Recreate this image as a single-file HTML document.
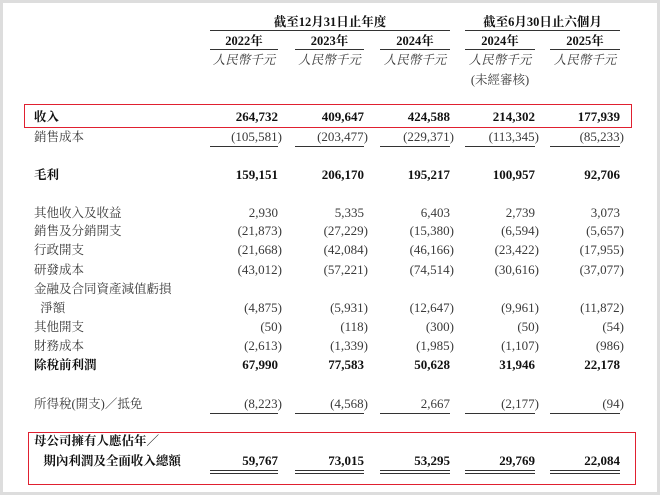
<!DOCTYPE html>
<html><head><meta charset="utf-8"><style>
body{margin:0;width:660px;height:495px;overflow:hidden;background:#fff;font-family:"Liberation Serif","Noto Serif CJK SC",serif;color:#3a3a3a}
.frame{position:absolute;left:0;top:0;width:654px;height:489px;border:3px solid #ddd}
.t{position:absolute;font-size:12.5px;white-space:nowrap;line-height:14px}
.n{font-size:13px}
.b{font-weight:bold;color:#111}
.l{position:absolute;height:0;border-top:1.3px solid #333}
.box{position:absolute;border:1.5px solid #e02030}
</style></head><body>
<div class="frame"></div>
<div id="c"></div>
<script>
var c=document.getElementById('c'),h='';
function T(x,y,s,cls){h+='<div class="t '+(cls||'')+'" style="left:'+x+'px;top:'+(y-7)+'px;">'+s+'</div>';}
function L(x1,x2,y){h+='<div class="l" style="left:'+x1+'px;width:'+(x2-x1)+'px;top:'+y+'px"></div>';}
var cols=[[210,278],[295,364],[380,450],[465,535],[550,620]];
T(210,22,'<div style="width:240px;text-align:center">截至12月31日止年度</div>','b');
T(465,22,'<div style="width:155px;text-align:center">截至6月30日止六個月</div>','b');
L(210,450,30);L(465,620,30);
var yrs=['2022年','2023年','2024年','2024年','2025年'];
cols.forEach(function(c,i){T(c[0],41,'<div style="width:'+(c[1]-c[0])+'px;text-align:center">'+yrs[i]+'</div>','b');L(c[0],c[1],49);
T(c[0]-3,60,'<div style="width:'+(c[1]-c[0]+6)+'px;text-align:center;font-style:italic">人民幣千元</div>');});
T(465,80,'<div style="width:70px;text-align:center">(未經審核)</div>');
var rows=[
['收入',117,1,['264,732','409,647','424,588','214,302','177,939']],
['銷售成本',137,0,['(105,581)','(203,477)','(229,371)','(113,345)','(85,233)'],1],
['毛利',175,1,['159,151','206,170','195,217','100,957','92,706']],
['其他收入及收益',213,0,['2,930','5,335','6,403','2,739','3,073']],
['銷售及分銷開支',231,0,['(21,873)','(27,229)','(15,380)','(6,594)','(5,657)']],
['行政開支',250,0,['(21,668)','(42,084)','(46,166)','(23,422)','(17,955)']],
['研發成本',270,0,['(43,012)','(57,221)','(74,514)','(30,616)','(37,077)']],
['金融及合同資產減值虧損',289,0,null],
['&nbsp;&nbsp;淨額',308,0,['(4,875)','(5,931)','(12,647)','(9,961)','(11,872)']],
['其他開支',327,0,['(50)','(118)','(300)','(50)','(54)']],
['財務成本',346,0,['(2,613)','(1,339)','(1,985)','(1,107)','(986)']],
['除稅前利潤',365,1,['67,990','77,583','50,628','31,946','22,178']],
['所得稅(開支)／抵免',404,0,['(8,223)','(4,568)','2,667','(2,177)','(94)'],1],
['母公司擁有人應佔年／',441,1,null],
['&nbsp;&nbsp;&nbsp;期內利潤及全面收入總額',461,1,['59,767','73,015','53,295','29,769','22,084'],2]];
rows.forEach(function(r){T(34,r[1],r[0],r[2]?'b':'');
 if(r[3])cols.forEach(function(c,i){var v=r[3][i],p=v[v.length-1]==')';
  T(c[0]-20,r[1],'<div style="width:'+(c[1]-c[0]+20+(p?4:0))+'px;text-align:right">'+v+'</div>','n '+(r[2]?'b':''));
  if(r[4]==1)L(c[0],c[1],r[1]+9);
  if(r[4]==2){L(c[0],c[1],r[1]+9);L(c[0],c[1],r[1]+12);}
 });});
h+='<div class="box" style="left:24px;top:104px;width:606px;height:22px"></div>';
h+='<div class="box" style="left:28px;top:432px;width:606px;height:51px"></div>';
c.innerHTML=h;
</script>
</body></html>
